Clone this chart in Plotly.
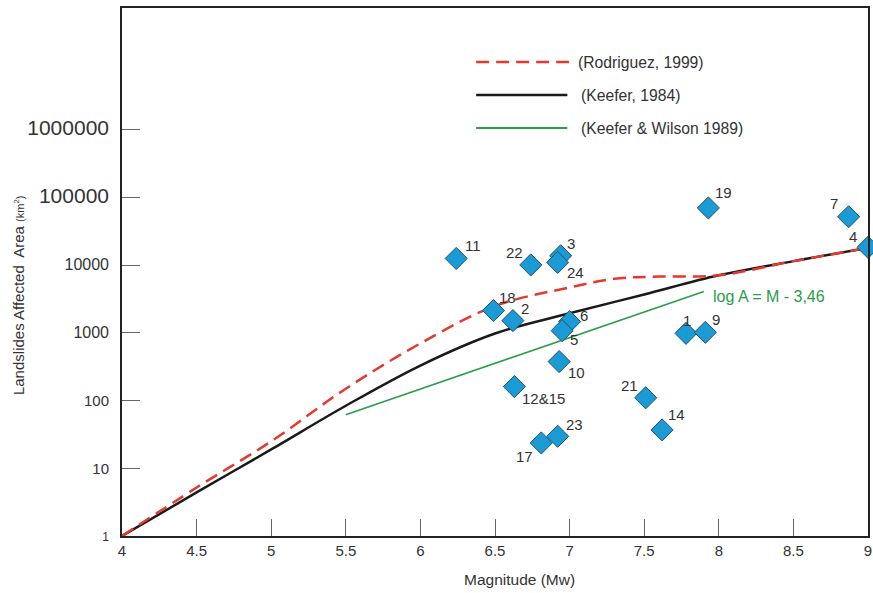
import numpy as np
import plotly.graph_objects as go

# ---- data ----
rod_m = [4.0, 4.5, 5.0, 5.5, 6.0, 6.5, 7.0, 7.3, 7.6, 8.0, 8.5, 9.0]
rod_a = [1, 5.2, 25, 150, 700, 2500, 4700, 6300, 6800, 7100, 11500, 18000]

kee_m = [4.0, 4.5, 5.0, 5.5, 6.0, 6.5, 7.0, 7.5, 8.0, 8.5, 9.0]
kee_a = [1, 4.4, 19, 84, 330, 980, 1950, 3700, 7100, 11500, 18000]

kw_m = [5.5, 7.9]
kw_a = [62, 4100]

pt_labels = ["11", "22", "3", "24", "18", "2", "6", "5", "10", "12&15", "23", "17",
             "19", "1", "9", "21", "14", "7", "4"]
pt_m = [6.24, 6.74, 6.94, 6.92, 6.49, 6.62, 7.0, 6.95, 6.93, 6.63, 6.92, 6.81,
        7.93, 7.78, 7.91, 7.51, 7.62, 8.87, 9.0]
pt_a = [12600, 10100, 13800, 11000, 2140, 1520, 1470, 1080, 377, 161, 29.7, 23.7,
        70200, 986, 1020, 110, 36.9, 52000, 18400]
# label offsets (px) for each point label
lab_dx = [17, -16, 10, 18, 14, 12, 14, 12, 17, 29, 17, -17, 15, 1, 11, -16, 14, -15, -15]
lab_dy = [13, 12, 12, -10, 13, 12, 6, -9, -11, -12, 12, -14, 15, 13, 13, 12, 15, 13, 11]

x_ticks = [4, 4.5, 5, 5.5, 6, 6.5, 7, 7.5, 8, 8.5, 9]
y_ticks = [1, 10, 100, 1000, 10000, 100000, 1000000]
y_tick_text = ["1", "10", "100", "1000", "10000", "100000", "1000000"]
y_tick_sizes = [12, 15, 15, 16, 16, 21, 21]

legend_names = ["(Rodriguez, 1999)", "(Keefer, 1984)", "(Keefer & Wilson 1989)"]

RED = "#e5392f"
BLACK = "#1a1a1a"
GREEN = "#2a9d48"
BLUE = "#1b9bd6"
FONT = "Liberation Sans, Arial, sans-serif"

fig = go.Figure()
fig.add_trace(go.Scatter(x=kw_m, y=kw_a, mode="lines",
                         line=dict(color=GREEN, width=1.5), showlegend=False))
fig.add_trace(go.Scatter(x=kee_m, y=kee_a, mode="lines", line_shape="spline",
                         line=dict(color=BLACK, width=2.5), showlegend=False))
fig.add_trace(go.Scatter(x=rod_m, y=rod_a, mode="lines", line_shape="spline",
                         line=dict(color=RED, width=2.5, dash="13px,7px"), showlegend=False))
fig.add_trace(go.Scatter(x=pt_m, y=pt_a, mode="markers", cliponaxis=False,
                         marker=dict(symbol="diamond", size=17, color=BLUE,
                                     line=dict(color="#24506a", width=1)),
                         showlegend=False))

for lab, m, a, dx, dy in zip(pt_labels, pt_m, pt_a, lab_dx, lab_dy):
    fig.add_annotation(x=m, y=np.log10(a), text=lab, showarrow=False,
                       xshift=dx, yshift=dy, font=dict(size=15, color="#333", family=FONT))

# legend drawn manually
leg_y = [0.8977, 0.835, 0.7727]
leg_x1 = [0.604, 0.597, 0.597]
leg_tx = [0.609, 0.613, 0.613]
leg_col = [RED, BLACK, GREEN]
leg_dash = ["13px,7px", "solid", "solid"]
leg_w = [2.5, 2.5, 1.8]
for name, ly, x1, tx, c, d, w in zip(legend_names, leg_y, leg_x1, leg_tx, leg_col, leg_dash, leg_w):
    fig.add_shape(type="line", xref="paper", yref="paper", x0=0.4747, x1=x1, y0=ly, y1=ly,
                  line=dict(color=c, width=w, dash=d))
    fig.add_annotation(xref="paper", yref="paper", x=tx, y=ly, text=name, showarrow=False,
                       xanchor="left", yanchor="middle",
                       font=dict(size=15.7, color="#333", family=FONT))

fig.add_annotation(xref="paper", yref="paper", x=0.79, y=0.4545, text="log A = M - 3,46",
                   showarrow=False, xanchor="left", yanchor="middle",
                   font=dict(size=16, color=GREEN, family=FONT))

fig.add_annotation(xref="paper", yref="paper", x=-0.139, y=0.455, textangle=-90,
                   text="Landslides Affected  Area <span style='font-size:11px'>(km<sup>2</sup>)</span>",
                   showarrow=False, xanchor="center", yanchor="middle",
                   font=dict(size=15, color="#333", family=FONT))
fig.add_annotation(xref="paper", yref="paper", x=0.533, y=-0.083, text="Magnitude (Mw)",
                   showarrow=False, xanchor="center", yanchor="middle",
                   font=dict(size=15.5, color="#333", family=FONT))

fig.update_layout(
    width=873, height=593,
    margin=dict(l=122, r=1, t=8, b=57),
    paper_bgcolor="white", plot_bgcolor="white",
    font=dict(family=FONT, color="#333"),
    showlegend=False,
)
fig.update_xaxes(range=[4, 9], tickvals=x_ticks, ticktext=[f"{v:g}" for v in x_ticks],
                 ticks="inside", ticklen=17, tickcolor="#666", tickwidth=1,
                 showline=True, linecolor="#222", linewidth=2, mirror=True,
                 ticklabeloverflow="allow",
                 showgrid=False, zeroline=False, tickfont=dict(size=15, color="#333"))
fig.update_yaxes(type="log", range=[0, 7.8], tickvals=y_ticks,
                 ticktext=[f"<span style='font-size:{s}px'>{t}</span>" for t, s in zip(y_tick_text, y_tick_sizes)],
                 ticks="inside", ticklen=18, tickcolor="#666", tickwidth=1,
                 showline=True, linecolor="#222", linewidth=2, mirror=True,
                 showgrid=False, zeroline=False, tickfont=dict(size=15, color="#333"),
                 ticklabelstandoff=8)

fig.write_html("out.html", config={"displayModeBar": False},
               post_script="document.body.style.margin='0';document.body.style.overflow='hidden';")
